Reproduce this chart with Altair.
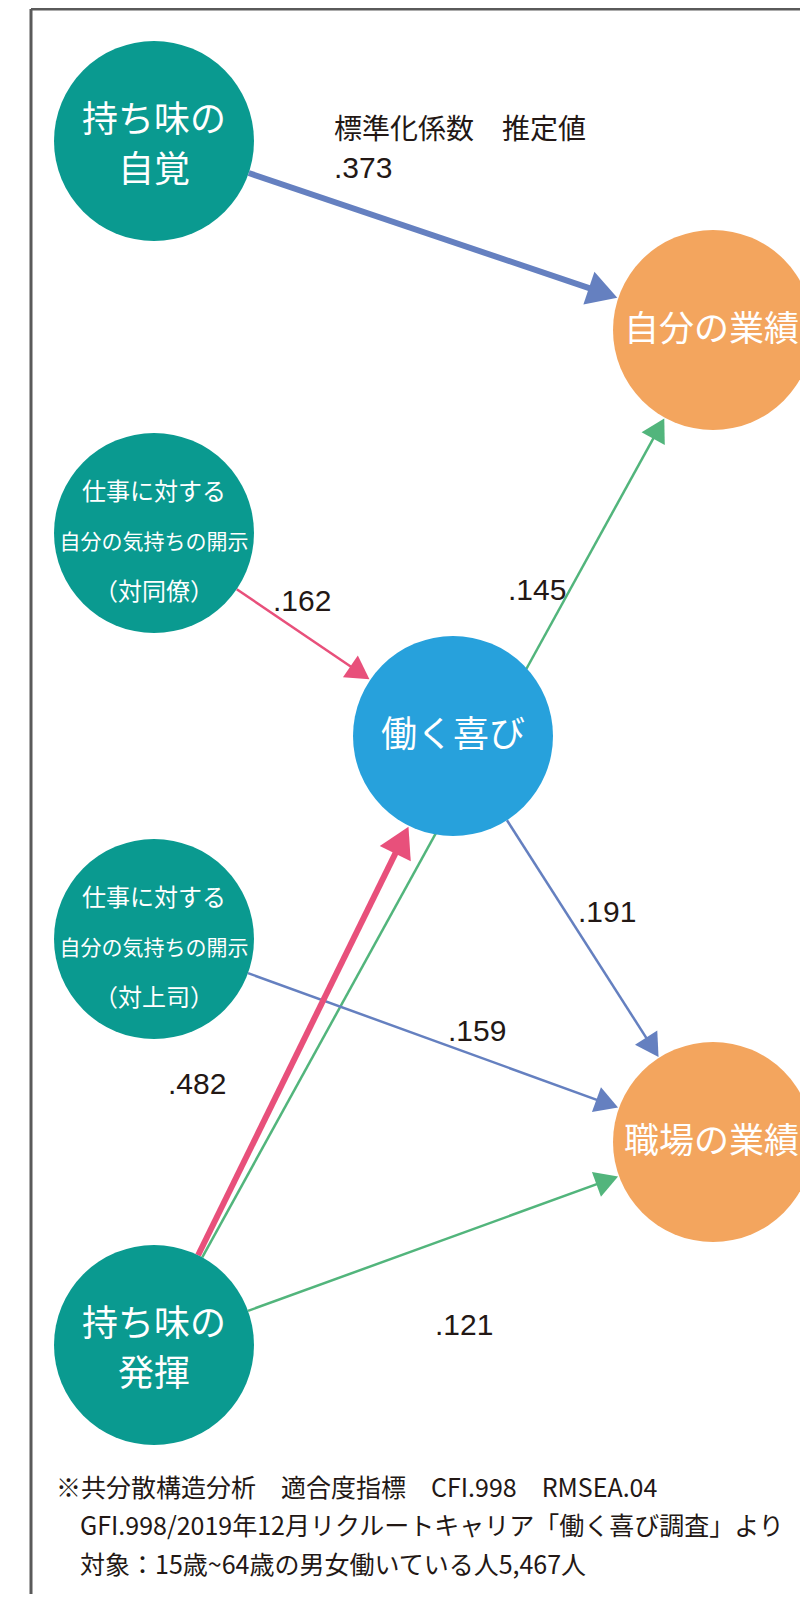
import math
import altair as alt
import pandas as pd

# ---------------- data ----------------
node_names = ["持ち味の自覚", "対同僚", "働く喜び", "対上司", "持ち味の発揮", "自分の業績", "職場の業績"]
node_lines = [
    ["持ち味の", "自覚"],
    ["仕事に対する", "自分の気持ちの開示", "（対同僚）"],
    ["働く喜び"],
    ["仕事に対する", "自分の気持ちの開示", "（対上司）"],
    ["持ち味の", "発揮"],
    ["自分の業績"],
    ["職場の業績"],
]
node_kind = ["input", "input", "mediator", "input", "input", "outcome", "outcome"]

edge_source = ["持ち味の自覚", "対同僚", "持ち味の発揮", "働く喜び", "対上司", "持ち味の発揮", "持ち味の発揮"]
edge_target = ["自分の業績", "働く喜び", "自分の業績", "職場の業績", "職場の業績", "働く喜び", "職場の業績"]
edge_coef = [0.373, 0.162, 0.145, 0.191, 0.159, 0.482, 0.121]
edge_group = ["blue", "pink", "green", "blue", "blue", "pink", "green"]

header_text = "標準化係数　推定値"
note_lines = [
    "※共分散構造分析　適合度指標　CFI.998　RMSEA.04",
    "GFI.998/2019年12月リクルートキャリア「働く喜び調査」より",
    "対象：15歳~64歳の男女働いている人5,467人",
]

# ---------------- layout (page pixels) ----------------
node_pos = {
    "持ち味の自覚": (154, 141), "対同僚": (154, 533), "働く喜び": (453, 736),
    "対上司": (154, 939), "持ち味の発揮": (154, 1345),
    "自分の業績": (713, 330), "職場の業績": (713, 1142),
}
label_pos = [(334, 169), (273, 602), (508, 591), (578, 913), (448, 1032), (168, 1085), (435, 1326)]
header_pos = (334, 131)
note_pos = [(56, 1489), (80, 1527), (80, 1566)]

kind_color = {"input": "#0A9A90", "mediator": "#27A1DC", "outcome": "#F3A55E"}
edge_color = {"blue": "#6580C0", "pink": "#E8507B", "green": "#52B57C"}
R = 100
TEXT = "#231815"
JP = "Noto Sans CJK JP"

# ---------------- build tables ----------------
nodes = pd.DataFrame({
    "name": node_names,
    "x": [node_pos[n][0] for n in node_names],
    "y": [node_pos[n][1] for n in node_names],
    "fill": [kind_color[k] for k in node_kind],
})

lab_rows = []
for name, lines, kind in zip(node_names, node_lines, node_kind):
    cx, cy = node_pos[name]
    n = len(lines)
    for i, t in enumerate(lines):
        off = (i - (n - 1) / 2) * 50 + 5 * (n - 1)
        if n == 3:
            fs = 21 if i == 1 else 24
        elif kind == "outcome":
            fs = 35
        else:
            fs = 36
        lab_rows.append({"x": cx - (1.5 if kind == "outcome" else 0), "y": cy + off, "t": t, "fs": fs})
node_labels = pd.DataFrame(lab_rows)

seg_rows, head_rows, elab_rows = [], [], []
for s, t, c, g, (lx, ly) in zip(edge_source, edge_target, edge_coef, edge_group, label_pos):
    sx, sy = node_pos[s]
    tx, ty = node_pos[t]
    dx, dy = tx - sx, ty - sy
    L = math.hypot(dx, dy)
    ux, uy = dx / L, dy / L
    thick = c > 0.3
    hl = 30 if thick else 23
    x0, y0 = sx + ux * R, sy + uy * R
    tipx, tipy = tx - ux * (R + 1), ty - uy * (R + 1)
    x1, y1 = tipx - ux * hl * 0.6, tipy - uy * hl * 0.6
    col = edge_color[g]
    seg_rows.append({"x": x0, "y": y0, "x2": x1, "y2": y1, "col": col, "sw": 6 if thick else 2.5})
    ang = math.degrees(math.atan2(ux, -uy)) % 360
    head_rows.append({"x": tipx, "y": tipy, "ang": ang, "col": col, "hs": hl * hl})
    elab_rows.append({"x": lx, "y": ly, "t": f"{c:.3f}"[1:]})
segs = pd.DataFrame(seg_rows)
heads = pd.DataFrame(head_rows)
elabs = pd.DataFrame(elab_rows)

hdr = pd.DataFrame({"x": [header_pos[0]], "y": [header_pos[1]], "t": [header_text]})
notes = pd.DataFrame({"x": [p[0] for p in note_pos], "y": [p[1] for p in note_pos], "t": note_lines})
frame = pd.DataFrame({"x": [31, 31], "y": [9, 9], "x2": [31, 820], "y2": [1610, 9]})

# ---------------- chart ----------------
xs = alt.Scale(domain=[8, 800], nice=False, zero=False)
ys = alt.Scale(domain=[8, 1594], nice=False, zero=False, reverse=True)


def X(f="x"):
    return alt.X(f"{f}:Q", scale=xs, axis=None)


def Y(f="y"):
    return alt.Y(f"{f}:Q", scale=ys, axis=None)


frame_layer = alt.Chart(frame).mark_rule(color="#5a5a5a", strokeWidth=3, clip=True).encode(
    x=X(), y=Y(), x2="x2:Q", y2="y2:Q")

seg_layer = alt.Chart(segs).mark_rule(strokeCap="butt").encode(
    x=X(), y=Y(), x2="x2:Q", y2="y2:Q",
    color=alt.Color("col:N", scale=None),
    strokeWidth=alt.StrokeWidth("sw:Q", scale=None))

head_layer = alt.Chart(heads).mark_point(
    shape="M0,0L1.15,2L-1.15,2Z", filled=True, opacity=1, strokeWidth=0).encode(
    x=X(), y=Y(),
    angle=alt.Angle("ang:Q", scale=None),
    size=alt.Size("hs:Q", scale=None),
    color=alt.Color("col:N", scale=None))

node_layer = alt.Chart(nodes).mark_circle(opacity=1, size=(2 * R) ** 2).encode(
    x=X(), y=Y(), color=alt.Color("fill:N", scale=None))

node_text = alt.Chart(node_labels).mark_text(
    font=JP, color="white", align="center", baseline="middle").encode(
    x=X(), y=Y(), text="t:N", size=alt.Size("fs:Q", scale=None))

edge_text = alt.Chart(elabs).mark_text(
    font="Liberation Sans", fontSize=30, color=TEXT, align="left", baseline="middle").encode(
    x=X(), y=Y(), text="t:N")

hdr_text = alt.Chart(hdr).mark_text(
    font=JP, fontSize=28, color=TEXT, align="left", baseline="middle").encode(
    x=X(), y=Y(), text="t:N")

note_text = alt.Chart(notes).mark_text(
    font=JP, fontSize=25, color=TEXT, align="left", baseline="middle").encode(
    x=X(), y=Y(), text="t:N")

chart = alt.layer(
    frame_layer, seg_layer, head_layer, node_layer, node_text, edge_text, hdr_text, note_text
).properties(
    width=792, height=1586, padding=0, autosize="none", background="white"
).configure_view(stroke=None)

chart.save("out.html", embed_options={"renderer": "svg", "actions": False})
